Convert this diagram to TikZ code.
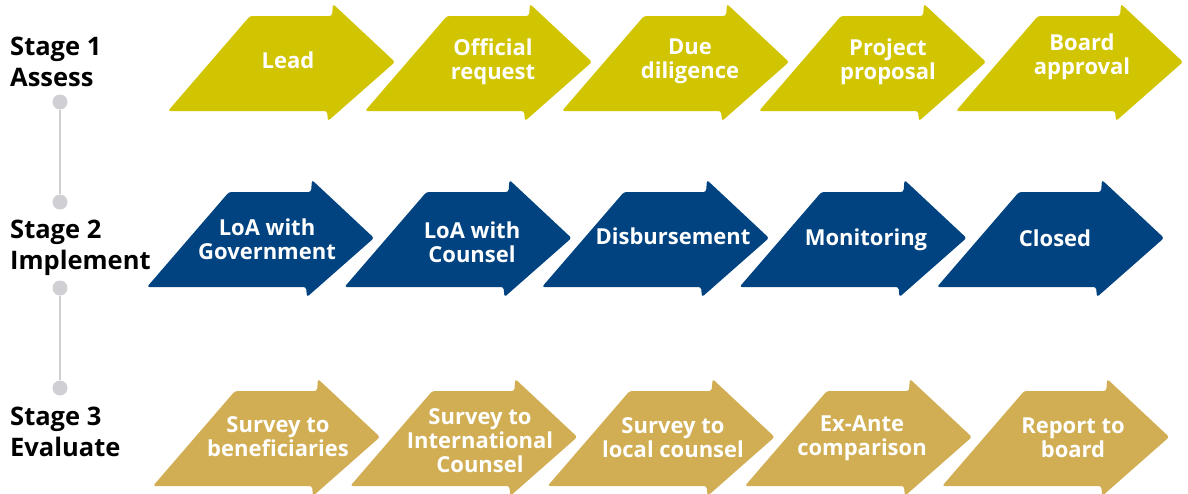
\documentclass[tikz,border=0pt]{standalone}
\usepackage{fontspec}
\setmainfont{Open Sans}
\definecolor{cyel}{HTML}{D1C400}
\definecolor{cblue}{HTML}{004380}
\definecolor{cgold}{HTML}{D1AE53}
\definecolor{cdot}{HTML}{D0D0D4}
\tikzset{
  arrowpic/.pic={\fill[rounded corners=2.5pt] (0,0) -- (82,-95) -- (164,-95) -- (165,-107) -- (227,-49) -- (160,10) -- (159,0) -- cycle;},
  lbl/.style={text=white,align=center,inner sep=0pt,font=\fontsize{22}{24}\selectfont\bfseries},
  stagelbl/.style={text=black,align=left,inner sep=0pt,anchor=north west,font=\fontsize{25.5}{31}\selectfont\bfseries},
  tdot/.style={circle,fill=cdot,inner sep=0pt,minimum size=15pt},
  tline/.style={draw=cdot,line width=2pt}
}
\begin{document}
\begin{tikzpicture}[x=1pt,y=-1pt]
\useasboundingbox (0,0) rectangle (1188,493);
% row 1
\foreach \i in {0,...,4} {\pic[fill=cyel] at (168+197*\i,111) {arrowpic};}
% row 2
\foreach \i in {0,...,4} {\pic[fill=cblue] at (147+197.5*\i,287) {arrowpic};}
% row 3
\foreach \i in {0,...,4} {\pic[fill=cgold] at (153+197.3*\i,486) {arrowpic};}
% labels row 1
\node[lbl] (a1) at (288,60) {Lead};
\node[lbl] (a2) at (493,62) {Official\\request};
\node[lbl] (a3) at (690,61) {Due\\diligence};
\node[lbl] (a4) at (888,62) {Project\\proposal};
\node[lbl] (a5) at (1082,57) {Board\\approval};
% labels row 2
\node[lbl] (b1) at (267,239) {LoA with\\Government};
\node[lbl] (b2) at (472,242) {LoA with\\Counsel};
\node[lbl] (b3) at (673,236) {Disbursement};
\node[lbl] (b4) at (866,240) {Monitoring};
\node[lbl] (b5) at (1055,238) {Closed};
% labels row 3
\node[lbl] (c1) at (278,437) {Survey to\\beneficiaries};
\node[lbl] (c2) at (480,441) {Survey to\\International\\Counsel};
\node[lbl] (c3) at (673,438) {Survey to\\local counsel};
\node[lbl] (c4) at (862,438) {Ex-Ante\\comparison};
\node[lbl] (c5) at (1073,438) {Report to\\board};
% stage labels
\node[stagelbl] (s1) at (10,37) {Stage 1\\Assess};
\node[stagelbl] (s2) at (10,220) {Stage 2\\Implement};
\node[stagelbl] (s3) at (10,407) {Stage 3\\Evaluate};
% timeline
\node[tdot] (d1) at (60,102) {};
\node[tdot] (d2) at (60,202) {};
\node[tdot] (d3) at (60,288) {};
\node[tdot] (d4) at (60,388) {};
\draw[tline] (d1) -- (d2);
\draw[tline] (d3) -- (d4);
\end{tikzpicture}
\end{document}
